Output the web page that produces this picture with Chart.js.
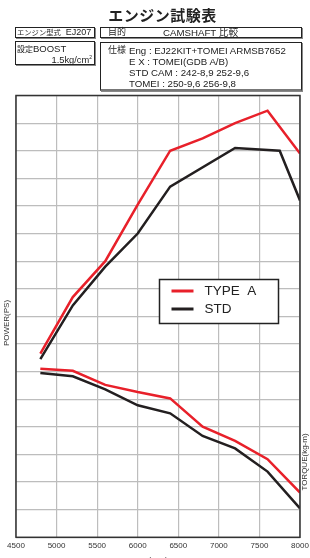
<!DOCTYPE html>
<html>
<head>
<meta charset="utf-8">
<script src="https://cdn.jsdelivr.net/npm/chart.js@4.4.1/dist/chart.umd.min.js"></script>
<style>
  html, body { margin: 0; padding: 0; background: #fff; }
  #wrap { position: relative; width: 310px; height: 558px; overflow: hidden;
          font-family: "Liberation Sans", "Noto Sans CJK JP", sans-serif; color: #222; }
  canvas { position: absolute; left: 0; top: 0; }
  .box { position: absolute; border: 1px solid #222; box-shadow: 1px 1px 0 #888; box-sizing: border-box; }
  .t { position: absolute; white-space: nowrap; line-height: 1; }
  #title { left: 0; width: 325px; top: 7px; text-align: center; font-size: 15px; font-weight: bold;
           font-family: "Noto Sans CJK JP", sans-serif; letter-spacing: 0.5px; }
</style>
</head>
<body>
<div id="wrap">
  <canvas id="chart" width="310" height="558"></canvas>
  <div id="title" class="t">エンジン試験表</div>

  <div class="box" style="left:15px;top:27px;width:80px;height:11px;"></div>
  <div class="t" style="left:17px;top:28px;font-size:9px;"><span style="font-size:7.3px;">エンジン型式</span>&nbsp;&nbsp;EJ207</div>

  <div class="box" style="left:100px;top:27px;width:202px;height:11px;"></div>
  <div class="t" style="left:108px;top:28px;font-size:9px;">目的</div>
  <div class="t" style="left:163px;top:28px;font-size:9.7px;">CAMSHAFT 比較</div>

  <div class="box" style="left:15px;top:41px;width:80px;height:24px;"></div>
  <div class="t" style="left:17px;top:44px;font-size:9.5px;"><span style="font-size:8px;">設定</span>BOOST</div>
  <div class="t" style="right:218px;top:55px;font-size:9.3px;">1.5kg/cm<sup style="font-size:5px;">2</sup></div>

  <div class="box" style="left:100px;top:42px;width:202px;height:49px;border-bottom:2px solid #777;"></div>
  <div class="t" style="left:108px;top:46px;font-size:9px;">仕様</div>
  <div class="t" style="left:129px;top:46px;font-size:9.7px;">Eng : EJ22KIT+TOMEI ARMSB7652</div>
  <div class="t" style="left:129px;top:57px;font-size:9.7px;">E X : TOMEI(GDB A/B)</div>
  <div class="t" style="left:129px;top:68px;font-size:9.7px;">STD CAM : 242-8,9 252-9,6</div>
  <div class="t" style="left:129px;top:79px;font-size:9.7px;">TOMEI : 250-9,6 256-9,8</div>
</div>
<script>
// rpm ticks
const rpmTicks = [4500, 5000, 5500, 6000, 6500, 7000, 7500, 8000];

// TYPE A (red)
const typeARpm = [4800, 5200, 5600, 6000, 6400, 6800, 7200, 7600, 8000];
const typeAPower = [133, 174, 200, 241, 280, 289, 300, 309, 278];     // PS
const typeATorque = [12.2, 12.06, 11.04, 10.52, 10.06, 8.02, 6.98, 5.66, 3.24];

// STD (black)
const stdPowerRpm = [4800, 5200, 5600, 6000, 6400, 7200, 7750, 8000];
const stdPower = [129, 168, 196, 220, 254, 282, 280, 244];
const stdTorqueRpm = [4800, 5200, 5600, 6000, 6400, 6800, 7200, 7600, 8000];
const stdTorque = [11.9, 11.66, 10.72, 9.56, 8.98, 7.34, 6.44, 4.76, 2.10];

const RED = '#e8202a';
const BLACK = '#231f20';

const pts = (xs, ys) => xs.map((x, i) => ({ x: x, y: ys[i] }));

// frame, axis titles, legend box
const decor = {
    id: 'decor',
    afterDraw: (chart) => {
        const { ctx, chartArea: a } = chart;
        ctx.save();
        ctx.strokeStyle = '#333';
        ctx.lineWidth = 1.5;
        ctx.strokeRect(a.left, a.top, a.right - a.left, a.bottom - a.top);

        // axis titles
        ctx.fillStyle = '#333';
        ctx.font = '8px "Liberation Sans", sans-serif';
        ctx.textAlign = 'center';
        ctx.textBaseline = 'middle';
        ctx.save();
        ctx.translate(7, 323);
        ctx.rotate(-Math.PI / 2);
        ctx.fillText('POWER(PS)', 0, 0);
        ctx.restore();
        ctx.save();
        ctx.translate(305, 462);
        ctx.rotate(-Math.PI / 2);
        ctx.fillText('TORQUE(kg-m)', 0, 0);
        ctx.restore();

        // legend
        const lx = a.left + 143.5, ly = a.top + 184;
        ctx.fillStyle = '#fff';
        ctx.fillRect(lx, ly, 119, 44);
        ctx.lineWidth = 1.5;
        ctx.strokeStyle = '#222';
        ctx.strokeRect(lx, ly, 119, 44);
        const items = [['TYPE  A', RED, 11.5], ['STD', BLACK, 29.5]];
        ctx.font = '13.5px "Liberation Sans", sans-serif';
        ctx.textAlign = 'left';
        items.forEach(([label, col, dy]) => {
            ctx.strokeStyle = col;
            ctx.lineWidth = 3;
            ctx.beginPath();
            ctx.moveTo(lx + 12, ly + dy);
            ctx.lineTo(lx + 34, ly + dy);
            ctx.stroke();
            ctx.fillStyle = '#222';
            ctx.fillText(label, lx + 45, ly + dy + 0.5);
        });
        ctx.restore();
    }
};

const line = (label, data, color, axis) => ({
    label: label,
    data: data,
    borderColor: color,
    backgroundColor: color,
    borderWidth: 2.5,
    pointRadius: 0,
    tension: 0,
    yAxisID: axis
});

new Chart(document.getElementById('chart'), {
    type: 'line',
    data: {
        datasets: [
            line('TYPE A', pts(typeARpm, typeAPower), RED, 'y'),
            line('STD', pts(stdPowerRpm, stdPower), BLACK, 'y'),
            line('TYPE A', pts(typeARpm, typeATorque), RED, 'y1'),
            line('STD', pts(stdTorqueRpm, stdTorque), BLACK, 'y1')
        ]
    },
    options: {
        responsive: false,
        animation: false,
        layout: { padding: { left: 16, right: 10, top: 95.5, bottom: -6.5 } },
        plugins: { legend: { display: false }, tooltip: { enabled: false } },
        scales: {
            x: {
                type: 'linear',
                min: 4500, max: 8000,
                afterBuildTicks: (s) => { s.ticks = rpmTicks.map(v => ({ value: v })); },
                afterFit: (s) => { s.paddingLeft = 0; s.paddingRight = 0; },
                grid: { color: '#bdbdbd', lineWidth: 1.2, drawTicks: false },
                border: { display: false },
                ticks: { color: '#333', padding: 4, maxRotation: 0, callback: (v) => String(v),
                         font: { size: 8, family: '"Liberation Sans", sans-serif' } },
                title: { display: true, text: '(rpm)', color: '#333', padding: 0, font: { size: 8, family: '"Liberation Sans", sans-serif' } }
            },
            y: {
                min: 0, max: 320,
                ticks: { display: false, stepSize: 20 },
                grid: { color: '#bdbdbd', lineWidth: 1.2, drawTicks: false },
                border: { display: false }
            },
            y1: {
                display: false,
                min: 0, max: 32
            }
        }
    },
    plugins: [decor]
});
</script>
</body>
</html>
